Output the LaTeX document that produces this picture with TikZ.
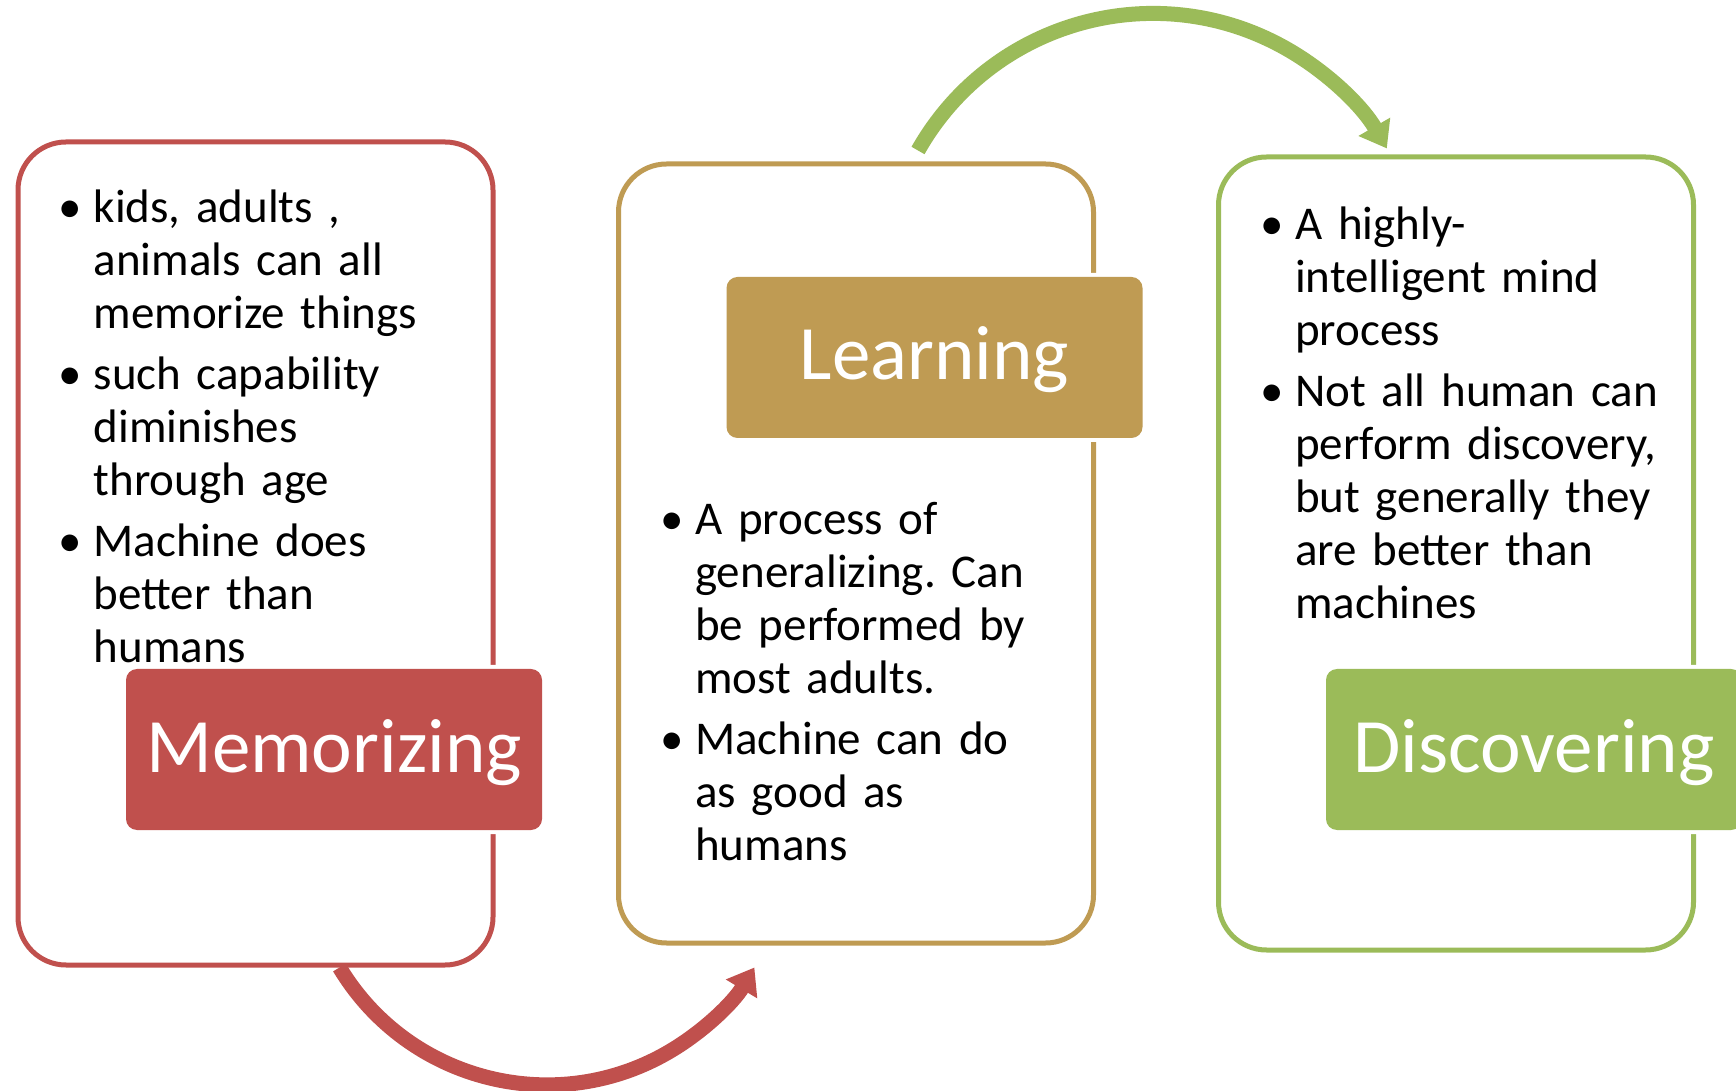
\documentclass[tikz,border=0pt]{standalone}
\usepackage{fontspec}
\setmainfont{Carlito}
\usetikzlibrary{arrows.meta}
\definecolor{memored}{HTML}{C0504D}
\definecolor{learngold}{RGB}{191,155,83}
\definecolor{discgreen}{HTML}{9BBB59}
\frenchspacing
\newcommand{\bitem}[1]{\par\setlength{\parskip}{8pt}%
    \hangindent=35pt\hangafter=1\noindent
    \makebox[35pt][l]{\textbullet}\strut#1\par}
\tikzset{
    x=1pt, y=1pt,
    stage/.style={ % outer rounded frame of a stage
        draw=#1, fill=white,
        line width=5pt,
        rounded corners=48pt,
        minimum width=475pt,
        inner sep=0pt
    },
    stagelabel/.style={ % filled title box, with a white halo
        fill=#1, text=white,
        rounded corners=11pt,
        minimum width=416pt, minimum height=161pt,
        inner sep=0pt,
        text height=61pt, text depth=16pt,
        preaction={draw=white, line width=8pt},
        font=\fontsize{77}{82}\selectfont
    },
    bullets/.style={ % bullet list inside a frame
        anchor=north west, inner sep=0pt,
        text width=440pt,
        font=\fontsize{47}{53}\selectfont
    },
    flowarrow/.style={ % thick curved arrow between stages
        draw=#1, line width=15pt,
        -{Triangle[width=35pt,length=25pt]}
    }
}
\begin{document}
\begin{tikzpicture}
    \clip (0,0) rectangle (1736,1090);
    % frames
    \node[stage=memored, minimum height=823pt] (memo) at (255.5,536.5) {};
    \node[stage=learngold, minimum height=779pt] (learn) at (856,536.5) {};
    \node[stage=discgreen, minimum height=793pt] (disc) at (1456,536.5) {};
    % titles
    \node[stagelabel=memored] (memotitle) at ([shift={(78.5pt,-196pt)}]memo.center) {Memorizing};
    \node[stagelabel=learngold] (learntitle) at ([shift={(78.5pt,196pt)}]learn.center) {Learning};
    \node[stagelabel=discgreen] (disctitle) at ([shift={(78pt,-196pt)}]disc.center) {Discovering};
    % bullet texts
    \node[bullets] (memotext) at ([shift={(43pt,-21.5pt)}]memo.north west) {%
        \bitem{kids, adults ,\newline animals can all\newline memorize things}
        \bitem{such capability\newline diminishes\newline through age}
        \bitem{Machine does\newline better than\newline humans}};
    \node[bullets] (learntext) at ([shift={(44pt,-311.5pt)}]learn.north west) {%
        \bitem{A process of\newline generalizing. Can\newline be performed by\newline most adults.}
        \bitem{Machine can do\newline as good as\newline humans}};
    \node[bullets] (disctext) at ([shift={(44pt,-23.5pt)}]disc.north west) {%
        \bitem{A highly-\newline intelligent mind\newline process}
        \bitem{Not all human can\newline perform discovery,\newline but generally they\newline are better than\newline machines}};
    % arrows
    \coordinate (memo out) at ([xshift=84pt]memo.south);
    \coordinate (learn out) at ([shift={(62pt,11pt)}]learn.north);
    \draw[flowarrow=memored] (memo out) arc[start angle=211, end angle=329, radius=242pt];
    \draw[flowarrow=discgreen] (learn out) arc[start angle=150.5, end angle=30, radius=270pt];
\end{tikzpicture}
\end{document}
